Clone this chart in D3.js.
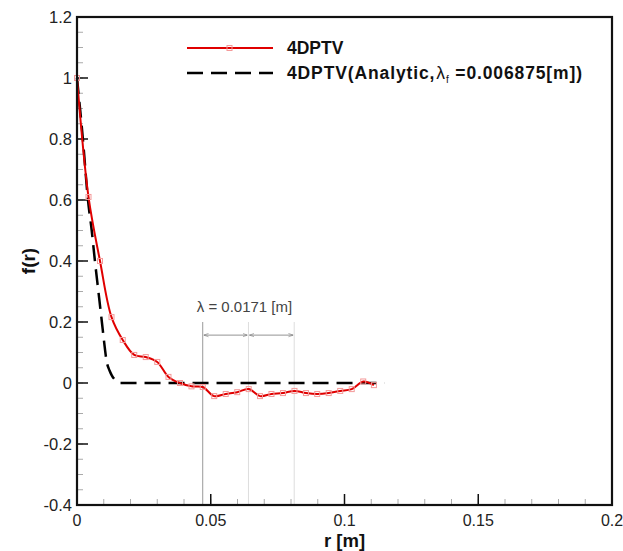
<!DOCTYPE html>
<html>
<head>
<meta charset="utf-8">
<script src="https://cdn.jsdelivr.net/npm/d3@7"></script>
<style>
  body { margin: 0; background: #fff; }
  text { font-family: "Liberation Sans", Arial, sans-serif; }
</style>
</head>
<body>
<svg id="chart" width="623" height="551"></svg>
<script>
// measured correlation, 4DPTV
const rMeasured = [0, 0.0043, 0.0086, 0.0129, 0.0171, 0.0214, 0.0257, 0.03, 0.0342, 0.0385,
  0.0428, 0.047, 0.0513, 0.0556, 0.0599, 0.0642, 0.0684, 0.0727, 0.077, 0.0813,
  0.0856, 0.0898, 0.0941, 0.0984, 0.1027, 0.107, 0.111];
const fMeasured = [1.0, 0.61, 0.40, 0.216, 0.141, 0.092, 0.085, 0.069, 0.02, 0.0,
  -0.011, -0.013, -0.043, -0.036, -0.03, -0.02, -0.043, -0.036, -0.033, -0.026,
  -0.033, -0.036, -0.033, -0.026, -0.02, 0.005, -0.007];

// analytic curve
const rAnalytic = [0, 0.0022, 0.0041, 0.0055, 0.0067, 0.008, 0.0093, 0.0102, 0.011, 0.0122,
  0.013, 0.0145, 0.016, 0.02, 0.04, 0.06, 0.08, 0.1, 0.115];
const fAnalytic = [1.0, 0.8, 0.6, 0.5, 0.4, 0.3, 0.2, 0.13, 0.075, 0.04,
  0.025, 0.008, 0.0, 0.0, 0.0, 0.0, 0.0, 0.0, 0.0];

const xTicks = [0, 0.05, 0.1, 0.15, 0.2];
const yTicks = [-0.4, -0.2, 0, 0.2, 0.4, 0.6, 0.8, 1, 1.2];

// lambda annotation lines
const lambdaLines = [0.047, 0.0641, 0.0812];
const lambdaText = "λ = 0.0171 [m]";

const width = 623, height = 551;
const margin = { top: 17, right: 11, bottom: 46, left: 77 };

const svg = d3.select("#chart");

const x = d3.scaleLinear().domain([0, 0.2]).range([margin.left, width - margin.right]);
const y = d3.scaleLinear().domain([-0.4, 1.2]).range([height - margin.bottom, margin.top]);

// minor ticks
const gMinor = svg.append("g");
gMinor.selectAll("line.xm")
  .data(x.ticks(20))
  .join("line")
  .attr("x1", d => x(d)).attr("x2", d => x(d))
  .attr("y1", y(-0.4)).attr("y2", y(-0.4) - 6)
  .attr("stroke", "#aaa").attr("stroke-width", 1);
gMinor.selectAll("line.ym")
  .data(y.ticks(32))
  .join("line")
  .attr("x1", x(0)).attr("x2", x(0) + 6)
  .attr("y1", d => y(d)).attr("y2", d => y(d))
  .attr("stroke", "#aaa").attr("stroke-width", 1);

// major ticks
svg.append("g").selectAll("line")
  .data(xTicks)
  .join("line")
  .attr("x1", d => x(d)).attr("x2", d => x(d))
  .attr("y1", y(-0.4)).attr("y2", y(-0.4) - 11)
  .attr("stroke", "#111").attr("stroke-width", 1.5);
svg.append("g").selectAll("line")
  .data(yTicks)
  .join("line")
  .attr("x1", x(0)).attr("x2", x(0) + 11)
  .attr("y1", d => y(d)).attr("y2", d => y(d))
  .attr("stroke", "#111").attr("stroke-width", 1.5);

// tick labels
svg.append("g").selectAll("text")
  .data(xTicks)
  .join("text")
  .attr("x", d => x(d))
  .attr("y", y(-0.4) + 21)
  .attr("text-anchor", "middle")
  .attr("font-size", 16)
  .attr("fill", "#222")
  .text(d => String(d));
svg.append("g").selectAll("text")
  .data(yTicks)
  .join("text")
  .attr("x", x(0) - 5)
  .attr("y", d => y(d) + 6)
  .attr("text-anchor", "end")
  .attr("font-size", 16.5)
  .attr("fill", "#222")
  .text(d => String(d));

// axis titles
svg.append("text")
  .attr("x", x(0.1))
  .attr("y", 547)
  .attr("text-anchor", "middle")
  .attr("font-size", 18.5)
  .attr("font-weight", "bold")
  .attr("fill", "#111")
  .text("r [m]");
svg.append("text")
  .attr("transform", `translate(35,${y(0.4)}) rotate(-90)`)
  .attr("text-anchor", "middle")
  .attr("font-size", 19)
  .attr("font-weight", "bold")
  .attr("fill", "#111")
  .text("f(r)");

// lambda annotation
svg.append("g").selectAll("line")
  .data(lambdaLines)
  .join("line")
  .attr("x1", d => x(d)).attr("x2", d => x(d))
  .attr("y1", y(0.2)).attr("y2", y(-0.4))
  .attr("stroke", (d, i) => i === 0 ? "#999" : "#ddd")
  .attr("stroke-width", 1);

const defs = svg.append("defs");
defs.append("marker")
  .attr("id", "arr")
  .attr("viewBox", "0 0 10 10")
  .attr("refX", 10).attr("refY", 5)
  .attr("markerWidth", 6).attr("markerHeight", 6)
  .attr("orient", "auto-start-reverse")
  .append("path")
  .attr("d", "M0,1.5 L10,5 L0,8.5")
  .attr("fill", "none")
  .attr("stroke", "#777")
  .attr("stroke-width", 1.2);

const arrowY = y(0.157);
svg.append("g").selectAll("line")
  .data(d3.pairs(lambdaLines))
  .join("line")
  .attr("x1", d => x(d[0]) + 1).attr("x2", d => x(d[1]) - 1)
  .attr("y1", arrowY).attr("y2", arrowY)
  .attr("stroke", "#777").attr("stroke-width", 0.8)
  .attr("marker-start", "url(#arr)")
  .attr("marker-end", "url(#arr)");

svg.append("text")
  .attr("x", x(lambdaLines[0]) - 6)
  .attr("y", 312)
  .attr("font-size", 15)
  .attr("fill", "#444")
  .text(lambdaText);

// analytic dashed curve
const analytic = d3.zip(rAnalytic, fAnalytic);
svg.append("path")
  .datum(analytic)
  .attr("fill", "none")
  .attr("stroke", "#000")
  .attr("stroke-width", 2.5)
  .attr("stroke-dasharray", "16,8")
  .attr("d", d3.line().x(d => x(d[0])).y(d => y(d[1])).curve(d3.curveMonotoneX));

// measured red curve
const measured = d3.zip(rMeasured, fMeasured);
svg.append("path")
  .datum(measured)
  .attr("fill", "none")
  .attr("stroke", "#e00000")
  .attr("stroke-width", 2)
  .attr("d", d3.line().x(d => x(d[0])).y(d => y(d[1])).curve(d3.curveCatmullRom));
svg.append("g").selectAll("rect")
  .data(measured)
  .join("rect")
  .attr("x", d => x(d[0]) - 2.5)
  .attr("y", d => y(d[1]) - 2.5)
  .attr("width", 5).attr("height", 5)
  .attr("fill", "none")
  .attr("stroke", "#f49a9a")
  .attr("stroke-width", 1);

// frame
svg.append("rect")
  .attr("x", x(0)).attr("y", y(1.2))
  .attr("width", x(0.2) - x(0))
  .attr("height", y(-0.4) - y(1.2))
  .attr("fill", "none")
  .attr("stroke", "#111")
  .attr("stroke-width", 2.2);

// legend
const legend = svg.append("g");
legend.append("line")
  .attr("x1", 187).attr("x2", 273).attr("y1", 48).attr("y2", 48)
  .attr("stroke", "#e00000").attr("stroke-width", 2);
legend.append("rect")
  .attr("x", 227).attr("y", 45.5).attr("width", 5).attr("height", 5)
  .attr("fill", "none").attr("stroke", "#f49a9a");
legend.append("line")
  .attr("x1", 187).attr("x2", 273).attr("y1", 73).attr("y2", 73)
  .attr("stroke", "#000").attr("stroke-width", 2.5)
  .attr("stroke-dasharray", "16,8");
legend.append("text")
  .attr("x", 287).attr("y", 54)
  .attr("font-size", 17.5).attr("font-weight", "bold").attr("fill", "#111")
  .text("4DPTV");
const t2 = legend.append("text")
  .attr("x", 287).attr("y", 79)
  .attr("font-size", 17.5).attr("font-weight", "bold").attr("fill", "#111");
t2.append("tspan").text("4DPTV(Analytic,");
t2.append("tspan").attr("font-weight", "normal").attr("dx", 1).text("λ");
t2.append("tspan").attr("font-size", 10).attr("dy", 4).attr("font-weight", "normal").text("f");
t2.append("tspan").attr("dy", -4).text(" =0.006875[m])");
t2.attr("textLength", 295).attr("lengthAdjust", "spacing");
</script>
</body>
</html>
